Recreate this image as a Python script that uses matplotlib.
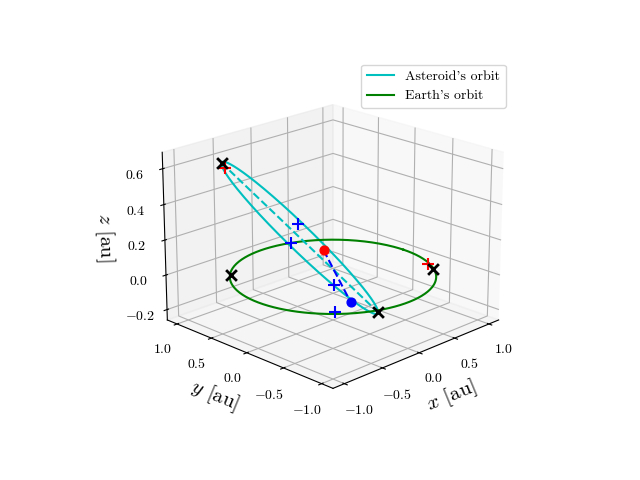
import numpy as np
import matplotlib
matplotlib.use("Agg")
import matplotlib.pyplot as plt

plt.rcParams["font.family"] = "serif"
plt.rcParams["font.serif"] = ["cmr10"]
plt.rcParams["mathtext.fontset"] = "cm"
plt.rcParams["axes.formatter.use_mathtext"] = True

# asteroid orbit: centre, major and minor semi-axis vectors [au]
ast_center = [-0.24, 0.20, 0.215]
ast_major = [-0.50, 0.56, 0.415]
ast_minor = [0.30, 0.27, 0.0]

# key points [au]
aphelion = [-0.74, 0.76, 0.63]
perihelion = [0.26, -0.36, -0.20]
earth_nodes = [[-0.70, 0.70, 0.0], [0.81, -0.57, 0.0]]
red_plus = [[-0.72, 0.74, 0.60], [0.88, -0.44, 0.0]]
blue_plus = [[-0.09, 0.39, 0.25], [-0.18, 0.40, 0.15],
             [-0.01, -0.02, -0.05], [-0.67, -0.69, 0.0]]
red_dot = [0.08, 0.21, 0.10]
blue_dot = [-0.06, -0.30, -0.10]

t = np.linspace(0, 2 * np.pi, 300)
c, u, v = map(np.array, (ast_center, ast_major, ast_minor))
ast = c[:, None] + u[:, None] * np.cos(t) + v[:, None] * np.sin(t)

fig = plt.figure(figsize=(6.4, 4.8), dpi=100)
ax = fig.add_subplot(projection="3d")
ax.view_init(elev=20, azim=-135)

ax.plot(ast[0], ast[1], ast[2], color="c", label="Asteroid's orbit")
ax.plot(np.cos(t), np.sin(t), np.zeros_like(t), color="g", label="Earth's orbit")

ap, pe = np.array(aphelion), np.array(perihelion)
ax.plot(*zip(ap, pe), "c--")
ax.plot(*zip(red_dot, blue_dot), "b--")

for p in [aphelion, perihelion] + earth_nodes:
    ax.scatter(*p, marker="x", color="k", s=60, linewidths=2, depthshade=False)
for p in red_plus:
    ax.scatter(*p, marker="+", color="r", s=70, linewidths=1.5, depthshade=False)
for p in blue_plus:
    ax.scatter(*p, marker="+", color="b", s=70, linewidths=1.5, depthshade=False)
ax.scatter(*red_dot, color="r", s=40, depthshade=False)
ax.scatter(*blue_dot, color="b", s=40, depthshade=False)

ax.set_xlabel("$x$ [au]", fontsize=15)
ax.set_ylabel("$y$ [au]", fontsize=15)
ax.set_zlabel("$z$ [au]", fontsize=15)
ax.set_xticks([-1.0, -0.5, 0.0, 0.5, 1.0])
ax.set_yticks([-1.0, -0.5, 0.0, 0.5, 1.0])
ax.set_zticks([-0.2, 0.0, 0.2, 0.4, 0.6])
ax.legend(loc="upper right", fontsize=10)

fig.savefig("out.png")
